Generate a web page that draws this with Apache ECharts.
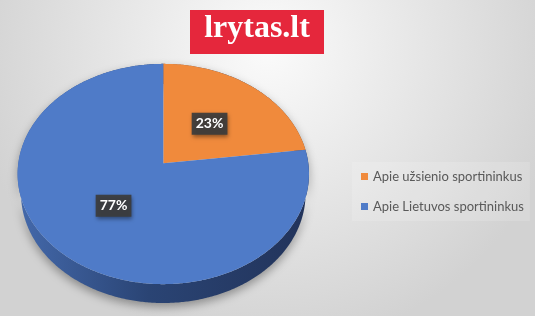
<!DOCTYPE html>
<html>
<head>
<meta charset="utf-8">
<script src="https://cdn.jsdelivr.net/npm/echarts@6/dist/echarts.min.js"></script>
<style>html,body{margin:0;padding:0;background:#fff;}#c{width:537px;height:318px;}</style>
</head>
<body>
<div id="c"></div>
<script>
// ---- data ----
const categories = ['Apie užsienio sportininkus', 'Apie Lietuvos sportininkus'];
const values = [23, 77];
const logoText = 'lrytas.lt';

// ---- styles / layout ----
const topColors = ['#f08a3c', '#4f7bc8'];
const sideColors = [
  ['#c0662a', '#8a4a1e'],
  ['#4469ab', '#22335a']
];
const geo = { cx: 163.3, cy: 163.3, S: 145, elev: 48.8 * Math.PI / 180, D: 6.78, h: 0.213, labelR: 0.5 };

const total = values.reduce((a, b) => a + b, 0);
let cum = 0;
const ranges = values.map(v => { const s = cum; cum += v; return [s, cum, total]; });

function proj(a, r, Y) {
  const X = r * Math.sin(a), Z = r * Math.cos(a);
  const ce = Math.cos(geo.elev), se = Math.sin(geo.elev);
  const sy = Y * ce + Z * se;
  const d = -Y * se + Z * ce;
  const f = geo.D / (geo.D + d);
  return [geo.cx + geo.S * X * f, geo.cy - geo.S * sy * f];
}

function makeRender(idx) {
  return function (params, api) {
    const s = api.value(0), e = api.value(1), t = api.value(2);
    const a0 = s / t * 2 * Math.PI, a1 = e / t * 2 * Math.PI;
    const n = Math.max(8, Math.ceil((a1 - a0) / 0.01));
    const topArc = [], botArc = [];
    for (let i = 0; i <= n; i++) {
      const a = a0 + (a1 - a0) * i / n;
      topArc.push(proj(a, 1, 0));
      botArc.push(proj(a, 1, -geo.h));
    }
    const topPts = [proj(0, 0, 0)].concat(topArc);
    const sidePts = topArc.concat(botArc.slice().reverse());
    const am = (a0 + a1) / 2;
    const lp = proj(am, geo.labelR, 0);
    const pct = Math.round((e - s) / t * 100) + '%';
    return {
      type: 'group',
      children: [
        {
          type: 'polygon', z2: 1,
          shape: { points: sidePts },
          style: {
            fill: new echarts.graphic.LinearGradient(0, 0, 1, 0, [
              { offset: 0, color: sideColors[idx][0] },
              { offset: 0.45, color: '#2a4474' },
              { offset: 1, color: sideColors[idx][1] }
            ]),
            shadowBlur: 10, shadowColor: 'rgba(0,0,0,0.35)', shadowOffsetY: 4
          }
        },
        {
          type: 'polygon', z2: 5,
          shape: { points: topPts },
          style: { fill: topColors[idx] }
        },
        {
          type: 'text', z2: 10,
          x: lp[0], y: lp[1],
          style: {
            text: pct, fill: '#ffffff',
            font: 'bold 14px Lato',
            align: 'center', verticalAlign: 'middle',
            backgroundColor: 'rgba(60,60,60,0.92)',
            padding: [4, 4, 4, 4],
            shadowBlur: 4, shadowColor: 'rgba(0,0,0,0.45)', shadowOffsetX: 1, shadowOffsetY: 2
          }
        }
      ]
    };
  };
}

const chart = echarts.init(document.getElementById('c'), null, { renderer: 'canvas' });
chart.setOption({
  animation: false,
  graphic: [
    {
      type: 'rect', z: -10, silent: true,
      shape: { x: 0, y: 0, width: 535, height: 316 },
      style: {
        fill: new echarts.graphic.RadialGradient(0.5, 0.15, 0.95, [
          { offset: 0, color: '#fbfbfb' },
          { offset: 1, color: '#d2d2d2' }
        ])
      }
    },
    {
      type: 'rect', z: 5,
      shape: { x: 190, y: 10, width: 134, height: 44 },
      style: { fill: '#e5273c' }
    },
    {
      type: 'text', z: 6,
      x: 257, y: 29,
      style: {
        text: logoText, fill: '#ffffff',
        font: 'bold 32px "Liberation Serif"',
        align: 'center', verticalAlign: 'middle'
      }
    }
  ],
  legend: {
    orient: 'vertical',
    left: 352, top: 162,
    padding: [8, 6, 8, 9],
    backgroundColor: 'rgba(255,255,255,0.15)',
    icon: 'rect', itemWidth: 7, itemHeight: 7, itemGap: 17,
    textStyle: { color: '#595959', fontSize: 13, fontFamily: 'Lato' },
    data: categories
  },
  series: categories.map((name, i) => ({
    type: 'custom', name: name,
    coordinateSystem: 'none',
    itemStyle: { color: topColors[i] },
    renderItem: makeRender(i),
    data: [ranges[i]]
  }))
});
</script>
</body>
</html>
